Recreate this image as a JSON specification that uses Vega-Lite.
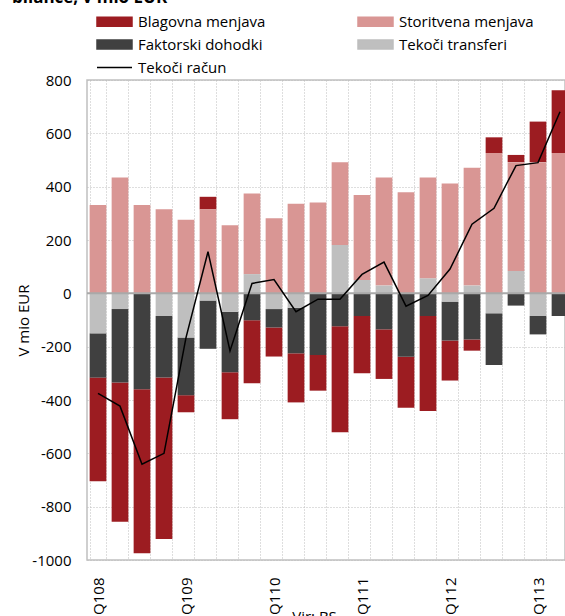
{
  "$schema": "https://vega.github.io/schema/vega-lite/v6.json",
  "width": 478,
  "height": 480,
  "autosize": {"type": "none"},
  "padding": {"left": 87, "top": 80, "right": 0, "bottom": 56},
  "background": "white",
  "title": {
    "text": "bilance, v mio EUR",
    "anchor": "start",
    "frame": "group",
    "font": "Open Sans",
    "fontSize": 17,
    "fontWeight": "bold",
    "color": "#000000",
    "baseline": "alphabetic",
    "offset": 0,
    "dx": -75,
    "dy": 6
  },
  "config": {
    "font": "Open Sans",
    "view": {"stroke": "#c0c0c0", "strokeWidth": 1.5}
  },
  "data": {
    "values": [
      {"q": "Q108", "series": "Blagovna menjava", "value": -389},
      {"q": "Q108", "series": "Storitvena menjava", "value": 331},
      {"q": "Q108", "series": "Faktorski dohodki", "value": -166},
      {"q": "Q108", "series": "Tekoči transferi", "value": -150},
      {"q": "Q108", "series": "Tekoči račun", "value": -375},
      {"q": "Q208", "series": "Blagovna menjava", "value": -523},
      {"q": "Q208", "series": "Storitvena menjava", "value": 434},
      {"q": "Q208", "series": "Faktorski dohodki", "value": -275},
      {"q": "Q208", "series": "Tekoči transferi", "value": -59},
      {"q": "Q208", "series": "Tekoči račun", "value": -423},
      {"q": "Q308", "series": "Blagovna menjava", "value": -615},
      {"q": "Q308", "series": "Storitvena menjava", "value": 331},
      {"q": "Q308", "series": "Faktorski dohodki", "value": -360},
      {"q": "Q308", "series": "Tekoči transferi", "value": 0},
      {"q": "Q308", "series": "Tekoči račun", "value": -641},
      {"q": "Q408", "series": "Blagovna menjava", "value": -605},
      {"q": "Q408", "series": "Storitvena menjava", "value": 315},
      {"q": "Q408", "series": "Faktorski dohodki", "value": -231},
      {"q": "Q408", "series": "Tekoči transferi", "value": -85},
      {"q": "Q408", "series": "Tekoči račun", "value": -600},
      {"q": "Q109", "series": "Blagovna menjava", "value": -64},
      {"q": "Q109", "series": "Storitvena menjava", "value": 276},
      {"q": "Q109", "series": "Faktorski dohodki", "value": -216},
      {"q": "Q109", "series": "Tekoči transferi", "value": -166},
      {"q": "Q109", "series": "Tekoči račun", "value": -166},
      {"q": "Q209", "series": "Blagovna menjava", "value": 47},
      {"q": "Q209", "series": "Storitvena menjava", "value": 315},
      {"q": "Q209", "series": "Faktorski dohodki", "value": -181},
      {"q": "Q209", "series": "Tekoči transferi", "value": -27},
      {"q": "Q209", "series": "Tekoči račun", "value": 156},
      {"q": "Q309", "series": "Blagovna menjava", "value": -176},
      {"q": "Q309", "series": "Storitvena menjava", "value": 255},
      {"q": "Q309", "series": "Faktorski dohodki", "value": -227},
      {"q": "Q309", "series": "Tekoči transferi", "value": -69},
      {"q": "Q309", "series": "Tekoči račun", "value": -216},
      {"q": "Q409", "series": "Blagovna menjava", "value": -236},
      {"q": "Q409", "series": "Storitvena menjava", "value": 302},
      {"q": "Q409", "series": "Faktorski dohodki", "value": -101},
      {"q": "Q409", "series": "Tekoči transferi", "value": 72},
      {"q": "Q409", "series": "Tekoči račun", "value": 37},
      {"q": "Q110", "series": "Blagovna menjava", "value": -109},
      {"q": "Q110", "series": "Storitvena menjava", "value": 282},
      {"q": "Q110", "series": "Faktorski dohodki", "value": -69},
      {"q": "Q110", "series": "Tekoči transferi", "value": -59},
      {"q": "Q110", "series": "Tekoči račun", "value": 52},
      {"q": "Q210", "series": "Blagovna menjava", "value": -184},
      {"q": "Q210", "series": "Storitvena menjava", "value": 336},
      {"q": "Q210", "series": "Faktorski dohodki", "value": -171},
      {"q": "Q210", "series": "Tekoči transferi", "value": -54},
      {"q": "Q210", "series": "Tekoči račun", "value": -69},
      {"q": "Q310", "series": "Blagovna menjava", "value": -134},
      {"q": "Q310", "series": "Storitvena menjava", "value": 341},
      {"q": "Q310", "series": "Faktorski dohodki", "value": -231},
      {"q": "Q310", "series": "Tekoči transferi", "value": 0},
      {"q": "Q310", "series": "Tekoči račun", "value": -22},
      {"q": "Q410", "series": "Blagovna menjava", "value": -398},
      {"q": "Q410", "series": "Storitvena menjava", "value": 311},
      {"q": "Q410", "series": "Faktorski dohodki", "value": -123},
      {"q": "Q410", "series": "Tekoči transferi", "value": 181},
      {"q": "Q410", "series": "Tekoči račun", "value": -22},
      {"q": "Q111", "series": "Blagovna menjava", "value": -215},
      {"q": "Q111", "series": "Storitvena menjava", "value": 319},
      {"q": "Q111", "series": "Faktorski dohodki", "value": -85},
      {"q": "Q111", "series": "Tekoči transferi", "value": 50},
      {"q": "Q111", "series": "Tekoči račun", "value": 71},
      {"q": "Q211", "series": "Blagovna menjava", "value": -186},
      {"q": "Q211", "series": "Storitvena menjava", "value": 405},
      {"q": "Q211", "series": "Faktorski dohodki", "value": -135},
      {"q": "Q211", "series": "Tekoči transferi", "value": 29},
      {"q": "Q211", "series": "Tekoči račun", "value": 117},
      {"q": "Q311", "series": "Blagovna menjava", "value": -191},
      {"q": "Q311", "series": "Storitvena menjava", "value": 379},
      {"q": "Q311", "series": "Faktorski dohodki", "value": -238},
      {"q": "Q311", "series": "Tekoči transferi", "value": 0},
      {"q": "Q311", "series": "Tekoči račun", "value": -48},
      {"q": "Q411", "series": "Blagovna menjava", "value": -356},
      {"q": "Q411", "series": "Storitvena menjava", "value": 378},
      {"q": "Q411", "series": "Faktorski dohodki", "value": -85},
      {"q": "Q411", "series": "Tekoči transferi", "value": 56},
      {"q": "Q411", "series": "Tekoči račun", "value": -8},
      {"q": "Q112", "series": "Blagovna menjava", "value": -150},
      {"q": "Q112", "series": "Storitvena menjava", "value": 412},
      {"q": "Q112", "series": "Faktorski dohodki", "value": -146},
      {"q": "Q112", "series": "Tekoči transferi", "value": -31},
      {"q": "Q112", "series": "Tekoči račun", "value": 91},
      {"q": "Q212", "series": "Blagovna menjava", "value": -42},
      {"q": "Q212", "series": "Storitvena menjava", "value": 442},
      {"q": "Q212", "series": "Faktorski dohodki", "value": -173},
      {"q": "Q212", "series": "Tekoči transferi", "value": 29},
      {"q": "Q212", "series": "Tekoči račun", "value": 259},
      {"q": "Q312", "series": "Blagovna menjava", "value": 59},
      {"q": "Q312", "series": "Storitvena menjava", "value": 526},
      {"q": "Q312", "series": "Faktorski dohodki", "value": -194},
      {"q": "Q312", "series": "Tekoči transferi", "value": -75},
      {"q": "Q312", "series": "Tekoči račun", "value": 319},
      {"q": "Q412", "series": "Blagovna menjava", "value": 27},
      {"q": "Q412", "series": "Storitvena menjava", "value": 408},
      {"q": "Q412", "series": "Faktorski dohodki", "value": -46},
      {"q": "Q412", "series": "Tekoči transferi", "value": 84},
      {"q": "Q412", "series": "Tekoči račun", "value": 479},
      {"q": "Q113", "series": "Blagovna menjava", "value": 152},
      {"q": "Q113", "series": "Storitvena menjava", "value": 492},
      {"q": "Q113", "series": "Faktorski dohodki", "value": -69},
      {"q": "Q113", "series": "Tekoči transferi", "value": -85},
      {"q": "Q113", "series": "Tekoči račun", "value": 490},
      {"q": "Q213", "series": "Blagovna menjava", "value": 236},
      {"q": "Q213", "series": "Storitvena menjava", "value": 526},
      {"q": "Q213", "series": "Faktorski dohodki", "value": -85},
      {"q": "Q213", "series": "Tekoči transferi", "value": 0},
      {"q": "Q213", "series": "Tekoči račun", "value": 681}
    ]
  },
  "layer": [
    {
      "transform": [
        {"filter": "datum.series !== 'Tekoči račun'"},
        {"calculate": "indexof(['Tekoči transferi','Storitvena menjava','Faktorski dohodki','Blagovna menjava'], datum.series)", "as": "ord"}
      ],
      "mark": {"type": "bar"},
      "encoding": {
        "x": {
          "field": "q",
          "type": "ordinal",
          "sort": null,
          "scale": {"range": [0, 484], "paddingInner": 0.24, "paddingOuter": 0.12},
          "axis": {
            "title": "Vir: BS",
            "labelAngle": -90,
            "labelExpr": "substring(datum.label, 0, 2) === 'Q1' ? datum.label : ''",
            "labelOverlap": false,
            "ticks": false,
            "domain": false,
            "grid": true,
            "tickBand": "extent",
            "gridColor": "#bdbdbd",
            "gridDash": [1, 2],
            "gridWidth": 1,
            "labelPadding": 17,
            "labelFont": "Open Sans",
            "labelFontSize": 15,
            "labelColor": "#000000",
            "titleFont": "Open Sans",
            "titleFontSize": 15,
            "titleFontWeight": "normal",
            "titleColor": "#000000",
            "titleX": 227,
            "titleY": 49,
            "titleBaseline": "top"
          }
        },
        "y": {
          "field": "value",
          "type": "quantitative",
          "stack": "zero",
          "scale": {"domain": [-1000, 800], "nice": false},
          "axis": {
            "title": "V mio EUR",
            "values": [-1000, -800, -600, -400, -200, 0, 200, 400, 600, 800],
            "labelExpr": "'' + datum.value",
            "ticks": false,
            "domain": false,
            "grid": true,
            "gridColor": "#bdbdbd",
            "gridDash": [1, 2],
            "gridWidth": 1,
            "labelPadding": 16,
            "labelFont": "Open Sans",
            "labelFontSize": 15,
            "labelColor": "#000000",
            "titleFont": "Open Sans",
            "titleFontSize": 15,
            "titleFontWeight": "normal",
            "titleColor": "#000000",
            "titleX": -64,
            "titleY": 240,
            "titleBaseline": "middle"
          }
        },
        "color": {
          "field": "series",
          "type": "nominal",
          "scale": {
            "domain": ["Blagovna menjava", "Storitvena menjava", "Faktorski dohodki", "Tekoči transferi", "Tekoči račun"],
            "range": ["#9c1c21", "#d99694", "#404040", "#bfbfbf", "#000000"]
          },
          "legend": {
            "orient": "none",
            "direction": "horizontal",
            "legendX": 20,
            "legendY": -66,
            "columns": 2,
            "title": null,
            "padding": 0,
            "columnPadding": 89,
            "rowPadding": 7,
            "labelFont": "Open Sans",
            "labelFontSize": 15,
            "labelColor": "#000000",
            "labelOffset": 16,
            "labelLimit": 300,
            "symbolSize": 100,
            "symbolType": "M-3.5,-0.9H3.5V0.9H-3.5Z",
            "encode": {
              "symbols": {
                "update": {
                  "shape": {"signal": "datum.value === 'Tekoči račun' ? 'M-3.5,0H3.5' : 'M-3.5,-0.9H3.5V0.9H-3.5Z'"},
                  "fill": {"signal": "datum.value === 'Tekoči račun' ? 'transparent' : scale('color', datum.value)"},
                  "stroke": {"signal": "datum.value === 'Tekoči račun' ? '#000000' : 'transparent'"},
                  "strokeWidth": {"value": 1.5},
                  "size": {"value": 100},
                  "opacity": {"value": 1}
                }
              }
            }
          }
        },
        "order": {"field": "ord", "type": "quantitative"}
      }
    },
    {
      "data": {"values": [{"zero": 0}]},
      "mark": {"type": "rule", "color": "#a9a9a9", "strokeWidth": 2},
      "encoding": {"y": {"field": "zero", "type": "quantitative"}}
    },
    {
      "transform": [{"filter": "datum.series === 'Tekoči račun'"}],
      "mark": {"type": "line", "strokeWidth": 1.5},
      "encoding": {
        "x": {"field": "q", "type": "ordinal", "sort": null},
        "y": {"field": "value", "type": "quantitative"},
        "color": {"field": "series", "type": "nominal"}
      }
    }
  ]
}
